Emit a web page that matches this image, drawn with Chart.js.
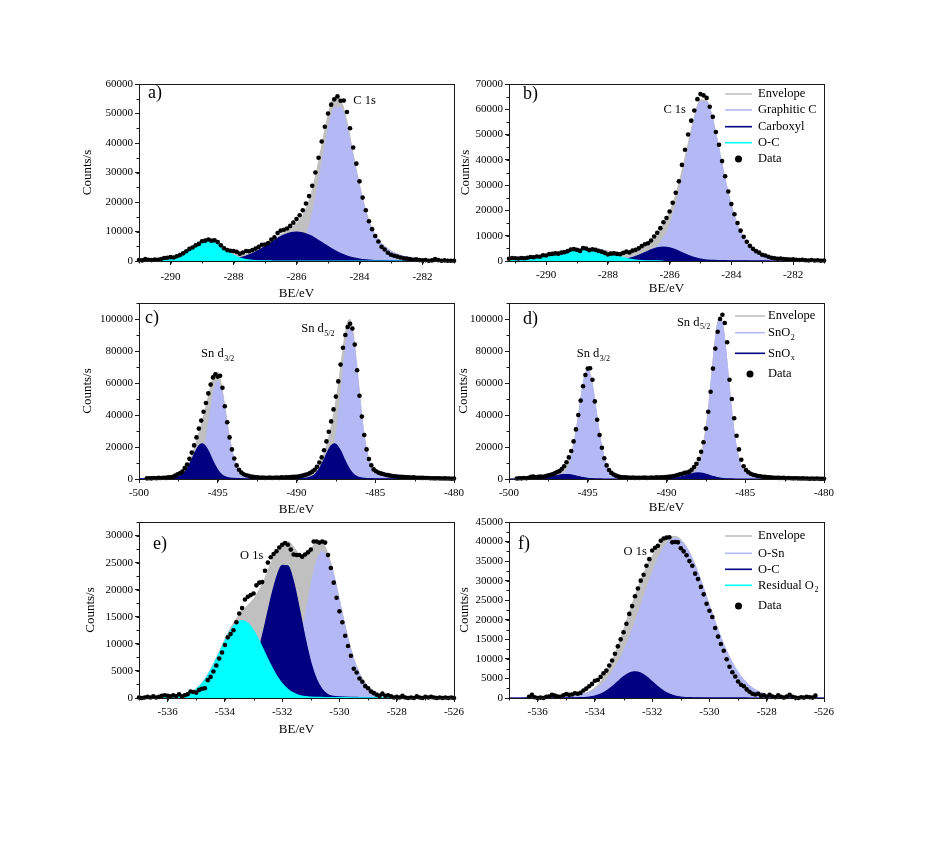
<!DOCTYPE html>
<html>
<head>
<meta charset="utf-8">
<script src="https://cdn.jsdelivr.net/npm/chart.js@4"></script>
<style>
  body { margin: 0; background: #fff; }
  #fig { position: relative; width: 926px; height: 842px; }
  #fig canvas { position: absolute; }
</style>
</head>
<body>
<div id="fig"></div>
<script>
// Helpers
const grid = (start, step, n) =>
  Array.from({ length: n }, (_, i) => Math.round((start + i * step) * 100) / 100);
const pts = (xs, ys) => ys.map((y, i) => ({ x: xs[i], y }));

// Tick labels
const cXTicks = [-290, -288, -286, -284, -282];
const aYTicks = [0, 10000, 20000, 30000, 40000, 50000, 60000];
const bYTicks = [0, 10000, 20000, 30000, 40000, 50000, 60000, 70000];
const snXTicks = [-500, -495, -490, -485, -480];
const snYTicks = [0, 20000, 40000, 60000, 80000, 100000];
const oXTicks = [-536, -534, -532, -530, -528, -526];
const eYTicks = [0, 5000, 10000, 15000, 20000, 25000, 30000];
const fYTicks = [0, 5000, 10000, 15000, 20000, 25000, 30000, 35000, 40000, 45000];

// a) C 1s
const aFitX = grid(-291, 0.2, 51);
const aEnvelope = [245, 400, 555, 760, 1065, 1375, 1985, 2995, 4110, 5330, 6360, 6710, 6380, 5385, 4050, 2820, 2230, 2325, 2970, 3975, 5270, 6700, 8165, 9540, 10890, 12550, 15360, 20420, 28420, 38890, 49250, 55560, 54520, 47160, 36040, 25650, 16900, 10750, 7160, 4900, 3360, 2340, 1625, 1115, 810, 605, 450, 350, 280, 230, 200];
const aGraphitic = [45, 50, 55, 60, 65, 70, 75, 80, 85, 90, 100, 110, 120, 135, 150, 170, 190, 215, 250, 285, 340, 400, 525, 770, 1360, 2750, 5830, 11650, 20780, 32600, 44350, 51950, 52000, 45500, 35000, 25000, 16500, 10500, 7000, 4800, 3300, 2300, 1600, 1100, 800, 600, 450, 350, 280, 230, 200];
const aCarboxyl = [0, 0, 0, 0, 0, 5, 10, 15, 25, 40, 60, 100, 160, 250, 400, 650, 1040, 1660, 2520, 3610, 4900, 6290, 7640, 8770, 9530, 9800, 9530, 8770, 7640, 6290, 4900, 3610, 2520, 1660, 1040, 650, 400, 250, 160, 100, 60, 40, 25, 15, 10, 5, 0, 0, 0, 0, 0];
const aOC = [200, 350, 500, 700, 1000, 1300, 1900, 2900, 4000, 5200, 6200, 6500, 6100, 5000, 3500, 2000, 1000, 450, 200, 80, 30, 10, 0, 0, 0, 0, 0, 0, 0, 0, 0, 0, 0, 0, 0, 0, 0, 0, 0, 0, 0, 0, 0, 0, 0, 0, 0, 0, 0, 0, 0];
const aDataX = grid(-291, 0.1, 101);
const aData = [300, 200, 700, 400, 300, 500, 400, 700, 1000, 1100,
  1300, 1200, 1600, 2000, 2600, 3300, 4100, 4600, 5300, 5800,
  6700, 6900, 7300, 6900, 7000, 6400, 5300, 4300, 3700, 3500,
  3400, 3100, 2500, 2900, 3400, 3300, 3700, 4200, 4800, 5500,
  5600, 6100, 7300, 8000, 9500, 10300, 10600, 11000, 11900, 13000,
  14200, 15500, 17200, 19500, 22000, 25500, 30000, 35000, 40500, 45500,
  50000, 53000, 54800, 55800, 54300, 54400, 50500, 45000, 38500, 33000,
  27000, 21500, 17200, 13500, 10800, 8500, 6600, 4800, 3900, 2800,
  2100, 1800, 1500, 1200, 900, 800, 700, 400, 600, 300,
  200, 300, 100, 200, 700, 300, 100, 200, 100, 100, 100];

// b) C 1s
const bFitX = grid(-291.2, 0.2, 52);
const bEnvelope = [1170, 1280, 1490, 1705, 2020, 2335, 2755, 3175, 3610, 4045, 4485, 4835, 4990, 4960, 4750, 4360, 3910, 3400, 2945, 2915, 3390, 4320, 5850, 8360, 10940, 14350, 19140, 26050, 35300, 46250, 56870, 63685, 63315, 55780, 44210, 32130, 21770, 14020, 8910, 5775, 3980, 2470, 1860, 1500, 1200, 1000, 850, 730, 630, 550, 480, 430];
const bGraphitic = [170, 180, 190, 205, 220, 235, 255, 275, 300, 325, 355, 390, 430, 480, 550, 630, 730, 850, 1000, 1200, 1500, 1850, 2450, 3950, 5730, 8850, 13940, 21670, 32000, 44030, 55530, 62970, 62970, 55530, 44030, 32000, 21670, 13940, 8850, 5730, 3950, 2450, 1850, 1500, 1200, 1000, 850, 730, 630, 550, 480, 430];
const bCarboxyl = [0, 0, 0, 0, 0, 0, 0, 0, 10, 20, 30, 45, 60, 80, 100, 130, 180, 250, 345, 715, 1340, 2220, 3300, 4380, 5200, 5500, 5200, 4380, 3300, 2220, 1340, 715, 345, 250, 180, 130, 100, 80, 60, 45, 30, 20, 10, 0, 0, 0, 0, 0, 0, 0, 0, 0];
const bOC = [1000, 1100, 1300, 1500, 1800, 2100, 2500, 2900, 3300, 3700, 4100, 4400, 4500, 4400, 4100, 3600, 3000, 2300, 1600, 1000, 550, 250, 100, 30, 10, 0];
const bDataX = grid(-291.2, 0.1, 103);
const bData = [900, 1200, 1100, 1000, 1200, 1100, 1300, 1600, 1500, 1800,
  1700, 2300, 2200, 2700, 2800, 3000, 2900, 3300, 3500, 3900,
  4500, 4700, 4400, 4000, 5100, 4900, 4300, 4600, 4400, 4000,
  3700, 3200, 2600, 2900, 3000, 2800, 2700, 3200, 3700, 3400,
  4100, 4400, 5000, 5900, 6600, 7000, 8100, 9700, 11200, 13000,
  15300, 17000, 19600, 23000, 27000, 31500, 38000, 44000, 50000, 55500,
  59500, 64000, 66000, 65500, 64500, 61000, 57000, 51000, 46000, 39500,
  33500, 27500, 22500, 18500, 15000, 12000, 9600, 7600, 6000, 4800,
  3900, 3300, 2500, 2200, 1700, 1300, 1100, 900, 1000, 800,
  700, 600, 700, 500, 400, 500, 300, 200, 400, 200,
  300, 100, 200];

// c) and d) Sn 3d
const snFitX = [-500, -499, -498.4, -497.8, -497.4,
  -497.2, -497.0, -496.8, -496.6, -496.4, -496.2, -496.0, -495.8, -495.6, -495.4, -495.2,
  -495.0, -494.8, -494.6, -494.4, -494.2, -494.0, -493.8, -493.6, -493.4, -493.2,
  -492.8, -492.2, -491.4, -490.6, -490.0, -489.6,
  -489.4, -489.2, -489.0, -488.8, -488.6, -488.4, -488.2, -488.0, -487.8, -487.6, -487.4, -487.2,
  -487.0, -486.8, -486.6, -486.4, -486.2, -486.0, -485.8, -485.6, -485.4, -485.2, -485.0, -484.8, -484.6,
  -484.2, -483.8, -483.2, -482.4, -481.4, -480];
const cEnvelope = [350, 515, 700, 1215, 2620,
  4220, 6880, 10700, 15740, 21670, 28250, 35215, 42840, 51170, 59660, 65930,
  66670, 60115, 48180, 34630, 22590, 13555, 7760, 4445, 2770, 1930,
  1340, 995, 850, 900, 1075, 1375,
  1645, 2190, 3155, 4820, 7615, 11650, 17135, 23945, 32300, 42345, 54690, 69380,
  84705, 96680, 99670, 90860, 73205, 52810, 34405, 20625, 11740, 6630, 4060, 2765, 2120,
  1480, 1130, 815, 570, 405, 290];
const cSnO2 = [275, 390, 520, 715, 930,
  1080, 1330, 1740, 2560, 4220, 7480, 13200, 22070, 33710, 46470, 56960,
  61110, 56965, 46480, 33720, 22080, 13225, 7510, 4250, 2595, 1775,
  1195, 875, 730, 740, 870, 1030,
  1125, 1270, 1445, 1660, 2045, 2670, 3935, 6480, 11525, 20320, 33920, 51920,
  71515, 87710, 94110, 87710, 71505, 51905, 33900, 20300, 11500, 6445, 3895, 2620, 1990,
  1375, 1045, 750, 515, 360, 260];
const cSnOx = [75, 125, 180, 500, 1690,
  3140, 5550, 8960, 13180, 17450, 20770, 22015, 20770, 17460, 13190, 8970,
  5560, 3150, 1700, 910, 510, 330, 250, 195, 175, 155,
  145, 120, 120, 160, 205, 345,
  520, 920, 1710, 3160, 5570, 8980, 13200, 17465, 20775, 22025, 20770, 17460,
  13190, 8970, 5560, 3150, 1700, 905, 505, 325, 240, 185, 165, 145, 130,
  105, 85, 65, 55, 45, 30];
const snDataX = grid(-499.5, 0.15, 131);
const cData = [400, 500, 400, 600, 500, 700, 600, 800, 700, 1000,
  1100, 1400, 2100, 2900, 3600, 4600, 6800, 9000, 12600, 16500,
  21000, 26000, 31500, 36500, 42000, 47500, 53500, 59000, 63500, 65500,
  64000, 64500, 57000, 45500, 35500, 26000, 18500, 12800, 8500, 5800,
  4000, 3000, 2300, 2000, 1500, 1300, 1000, 1100, 800, 900,
  700, 800, 900, 700, 800, 900, 700, 1000, 900, 1100,
  1000, 1200, 1400, 1300, 1600, 1900, 2100, 2600, 3000, 3700,
  4600, 5800, 7600, 10300, 13500, 18000, 23500, 29500, 36000, 43500,
  51500, 61000, 71500, 82000, 90000, 95000, 97000, 94000, 84000, 68000,
  52000, 39000, 27500, 18500, 12500, 8600, 6000, 4800, 4000, 3500,
  3100, 2700, 2400, 2100, 1900, 1700, 1500, 1400, 1300, 1200,
  1100, 1100, 900, 1000, 800, 800, 700, 700, 600, 600,
  500, 500, 400, 500, 400, 300, 400, 300, 300, 200, 300];
const dEnvelope = [305, 445, 640, 1220, 2105,
  2720, 3460, 4340, 5550, 7505, 11040, 17120, 26580, 39100, 52880, 64210,
  68570, 63750, 51945, 37650, 24650, 14755, 8380, 4735, 2895, 1980,
  1325, 970, 805, 815, 1025, 1445,
  1795, 2320, 3010, 3850, 4895, 6135, 7895, 10770, 16050, 25100, 39140, 57850,
  78300, 95200, 101710, 94580, 77010, 55860, 36470, 21835, 12370, 6935, 4195, 2825, 2145,
  1490, 1130, 810, 555, 390, 280];
const dSnO2 = [300, 435, 580, 790, 1035,
  1200, 1480, 1940, 2850, 4705, 8340, 14720, 24600, 37580, 51810, 63510,
  68140, 63510, 51820, 37590, 24620, 14740, 8370, 4730, 2890, 1975,
  1320, 965, 800, 805, 945, 1115,
  1215, 1370, 1560, 1790, 2205, 2875, 4233, 6970, 12390, 21840, 36450, 55790,
  76850, 94250, 101130, 94250, 76840, 55780, 36430, 21820, 12360, 6930, 4190, 2820, 2140,
  1485, 1125, 810, 555, 390, 280];
const dSnOx = [5, 10, 60, 430, 1070,
  1520, 1980, 2400, 2700, 2800, 2700, 2400, 1980, 1520, 1070, 700,
  430, 240, 125, 60, 30, 15, 10, 5, 5, 5,
  5, 5, 5, 10, 80, 330,
  580, 950, 1450, 2060, 2690, 3260, 3660, 3800, 3660, 3260, 2690, 2060,
  1450, 950, 580, 330, 170, 80, 40, 15, 10, 5, 5, 5, 5,
  5, 5, 0, 0, 0, 0];
const dData = [300, 500, 400, 600, 500, 800, 1300, 1500, 1100, 1400,
  1500, 1300, 1700, 2200, 2500, 3000, 3500, 4300, 4900, 6200,
  8000, 10500, 13500, 17500, 23500, 31000, 40000, 49000, 58000, 65000,
  69000, 69200, 62000, 48500, 37000, 27500, 19500, 13000, 8500, 5600,
  3800, 2800, 2100, 1500, 1200, 1100, 1000, 900, 800, 900,
  700, 800, 700, 800, 900, 700, 800, 900, 800, 1000,
  900, 1100, 1000, 1200, 1300, 1500, 1700, 2000, 2500, 2900,
  3300, 3800, 4100, 4600, 5800, 7500, 9500, 12500, 17000, 23000,
  31500, 42000, 54500, 69000, 81500, 92000, 100000, 102700, 97500, 85500,
  62000, 50000, 38000, 27000, 18500, 12000, 8000, 5600, 4200, 3300,
  2700, 2300, 1900, 1700, 1400, 1300, 1100, 1000, 900, 800,
  800, 700, 600, 700, 500, 600, 500, 400, 500, 400,
  300, 400, 300, 300, 200, 300, 200, 300, 200, 200, 200];

// e) and f) O 1s
const oFitX = grid(-537, 0.2, 56);
const eEnvelope = [89, 98, 112, 127, 152, 180, 217, 325, 554, 998, 1718, 2814, 4330, 6277, 8505, 10805, 12930, 14630, 15990, 17060, 18235, 19885, 22135, 24740, 27100, 28620, 28890, 27820, 26500, 26270, 27350, 28730, 28650, 26500, 22870, 18060, 13205, 8970, 5745, 3522, 2100, 1283, 821, 564, 407, 310, 243, 199, 166, 143, 125, 113, 102, 96, 90, 85];
const eOSn = [28, 30, 32, 35, 37, 40, 42, 45, 49, 53, 58, 64, 70, 77, 85, 95, 107, 120, 138, 160, 185, 225, 295, 430, 750, 1450, 2900, 5520, 9580, 14920, 20640, 25210, 27000, 25800, 22500, 17800, 13000, 8800, 5600, 3400, 2000, 1200, 750, 500, 350, 260, 200, 160, 130, 110, 95, 85, 75, 70, 65, 60];
const eOC = [6, 8, 10, 12, 15, 20, 25, 30, 35, 45, 60, 80, 100, 120, 150, 200, 350, 700, 1550, 3090, 5580, 9150, 13570, 18230, 22190, 24500, 24390, 21400, 16450, 11100, 6560, 3400, 1550, 620, 300, 200, 150, 120, 100, 80, 60, 45, 35, 30, 25, 20, 15, 12, 10, 8, 6, 5, 5, 5, 5, 5];
const eResidual = [55, 60, 70, 80, 100, 120, 150, 250, 470, 900, 1600, 2670, 4160, 6080, 8270, 10510, 12470, 13810, 14300, 13810, 12470, 10510, 8270, 6080, 4160, 2670, 1600, 900, 470, 250, 150, 120, 100, 80, 70, 60, 55, 50, 45, 42, 40, 38, 36, 34, 32, 30, 28, 27, 26, 25, 24, 23, 22, 21, 20, 20];
const eDataX = grid(-537, 0.1, 111);
const eData = [100, 0, 100, 200, 100, 300, 100, 200, 400, 500,
  400, 300, 500, 300, 700, 300, 500, 700, 1200, 1100,
  1000, 1500, 1700, 1800, 3300, 3900, 4900, 6000, 7300, 8400,
  9800, 11200, 11800, 12500, 14000, 15600, 16600, 18200, 18700, 19000,
  19300, 20800, 21300, 21400, 23500, 25000, 26000, 26600, 27100, 27800,
  28300, 28600, 28300, 27400, 26500, 26400, 26400, 26100, 26500, 26900,
  27400, 28900, 28900, 28700, 28900, 28700, 26400, 24000, 21300, 18500,
  16000, 14000, 11500, 9600, 7800, 5400, 4700, 3600, 3000, 2200,
  1800, 1200, 900, 600, 400, 800, 400, 500, 300, 100,
  200, 100, 400, 100, 0, 100, 0, 300, 100, 0,
  200, 100, 200, 100, 0, 100, 0, 100, 0, 100, 0];
const fEnvelope = [70, 80, 90, 105, 120, 140, 165, 195, 235, 300, 390, 525, 720, 1020, 1560, 2575, 4110, 6350, 9360, 13080, 17310, 21780, 26040, 29940, 33330, 36160, 38450, 40180, 41180, 41305, 40410, 38510, 35640, 32035, 27930, 23600, 19355, 15434, 11893, 8922, 6490, 4568, 3116, 2075, 1335, 905, 655, 485, 365, 285, 225, 185, 155, 135, 115, 100];
const fOSn = [65, 75, 85, 95, 110, 130, 150, 180, 220, 280, 360, 480, 650, 900, 1330, 2070, 3110, 4560, 6480, 8910, 11880, 15420, 19340, 23580, 27900, 31990, 35570, 38390, 40180, 40800, 40180, 38390, 35570, 31990, 27900, 23580, 19340, 15420, 11880, 8910, 6480, 4560, 3110, 2070, 1330, 900, 650, 480, 360, 280, 220, 180, 150, 130, 110, 95];
const fOC = [5, 5, 6, 8, 10, 12, 13, 14, 15, 20, 30, 45, 70, 120, 230, 505, 1000, 1790, 2880, 4170, 5430, 6360, 6700, 6360, 5430, 4170, 2880, 1790, 1000, 505, 230, 120, 70, 45, 30, 20, 15, 14, 13, 12, 10, 8, 6, 5, 5, 5, 5, 5, 5, 5, 5, 5, 5, 5, 5, 5];
const fDataX = grid(-536.3, 0.1, 101);
const fData = [300, 800, 200, 0, 100, 0, 300, 400, 800, 600,
  400, 300, 700, 1000, 800, 900, 1200, 1100, 1300, 1900,
  2400, 3000, 3600, 4400, 4600, 5400, 6300, 7000, 8300, 9600,
  11300, 13200, 15000, 16800, 19000, 21500, 23500, 26000, 28000, 30000,
  31500, 33800, 35500, 37700, 38400, 38900, 40200, 40800, 41000, 41100,
  39800, 39900, 39800, 38300, 37500, 36500, 35000, 33800, 31800, 30400,
  28400, 26500, 24100, 22300, 20700, 17900, 15700, 13800, 12100, 9900,
  8000, 6600, 5500, 4200, 3400, 3000, 2200, 1600, 1100, 900,
  1100, 600, 700, 300, 800, 400, 200, 700, 300, 100,
  400, 800, 300, 100, 0, 200, 100, 300, 200, 100, 600];

// Estilo
const FONT = "'Liberation Serif', 'Times New Roman', serif";
const INK = "#1a1a1a";
const GREY = "#c0c0c0";
const LILAC = "#b4b8f4";
const NAVY = "#000080";
const CYAN = "#00ffff";

const area = (label, xs, ys, color, order) => ({
  label, data: pts(xs, ys), order,
  borderColor: color, backgroundColor: color, borderWidth: 1.2,
  fill: "origin", pointRadius: 0, cubicInterpolationMode: "monotone",
});
const dots = (xs, ys) => ({
  label: "Data", data: pts(xs, ys), order: 0, showLine: false,
  pointRadius: 2.3, pointBackgroundColor: "#000", pointBorderWidth: 0, clip: false,
});

// texto com subscrito: "SnO_2"
const drawText = (ctx, text, x, y, size) => {
  const [main, sub] = text.split("_");
  ctx.textAlign = "left";
  ctx.textBaseline = "middle";
  ctx.font = `${size}px ${FONT}`;
  ctx.fillText(main, x, y);
  if (sub) {
    const w = ctx.measureText(main).width;
    ctx.font = `${Math.round(size * 0.65)}px ${FONT}`;
    ctx.fillText(sub, x + w + 0.5, y + size * 0.38);
  }
};

// moldura + ticks menores
const framePlugin = (p) => ({
  id: "frame",
  afterDraw(chart) {
    const { ctx, chartArea: a, scales: { x, y } } = chart;
    ctx.save();
    ctx.strokeStyle = INK;
    ctx.lineWidth = 1;
    ctx.strokeRect(Math.round(a.left) + 0.5, Math.round(a.top) + 0.5,
      Math.round(a.right - a.left), Math.round(a.bottom - a.top));
    ctx.beginPath();
    for (let i = Math.ceil(p.xMin / p.xMinor); i * p.xMinor <= p.xMax + 1e-9; i++) {
      const px = Math.round(x.getPixelForValue(i * p.xMinor)) + 0.5;
      ctx.moveTo(px, a.bottom);
      ctx.lineTo(px, a.bottom + 2.5);
    }
    for (let i = 0; i * p.yMinor <= p.yMax + 1e-9; i++) {
      const py = Math.round(y.getPixelForValue(i * p.yMinor)) + 0.5;
      ctx.moveTo(a.left, py);
      ctx.lineTo(a.left - 2.5, py);
    }
    ctx.stroke();
    ctx.restore();
  },
});

const textPlugin = (p) => ({
  id: "panelText",
  afterDraw(chart) {
    const { ctx, chartArea: a, scales: { x, y } } = chart;
    ctx.save();
    ctx.fillStyle = "#000";
    drawText(ctx, p.letter, a.left + p.letterAt[0], a.top + p.letterAt[1], 18);
    p.notes.forEach((n) => {
      ctx.fillStyle = "#000";
      drawText(ctx, n.text, x.getPixelForValue(n.x), y.getPixelForValue(n.y), 12.5);
    });
    if (p.legend) {
      const L = p.legend;
      L.rows.forEach((r, i) => {
        const yy = a.top + L.dy[i];
        if (r.dot) {
          ctx.fillStyle = "#000";
          ctx.beginPath();
          ctx.arc(a.right + (L.x0 + L.x1) / 2, yy, 3.5, 0, Math.PI * 2);
          ctx.fill();
        } else {
          ctx.strokeStyle = r.color;
          ctx.lineWidth = 1.6;
          ctx.beginPath();
          ctx.moveTo(a.right + L.x0, yy);
          ctx.lineTo(a.right + L.x1, yy);
          ctx.stroke();
        }
        ctx.fillStyle = "#000";
        drawText(ctx, r.text, a.right + L.tx, yy, 12.5);
      });
    }
    ctx.restore();
  },
});

const legendC = [
  { text: "Envelope", color: GREY }, { text: "Graphitic C", color: LILAC },
  { text: "Carboxyl", color: NAVY }, { text: "O-C", color: CYAN }, { text: "Data", dot: true }];
const legendSn = [
  { text: "Envelope", color: GREY }, { text: "SnO_2", color: LILAC },
  { text: "SnO_x", color: NAVY }, { text: "Data", dot: true }];
const legendO = [
  { text: "Envelope", color: GREY }, { text: "O-Sn", color: LILAC },
  { text: "O-C", color: NAVY }, { text: "Residual O_2", color: CYAN }, { text: "Data", dot: true }];

const panels = [
  {
    area: [139, 84, 454, 261], yw: 63, yTitlePad: 3.5, xTitle: true, xTitlePad: 1.9, xTickPad: 6,
    xMin: -291, xMax: -281, xTicks: cXTicks, xMinor: 1, yMax: 60000, yTicks: aYTicks, yMinor: 5000,
    letter: "a)", letterAt: [9, 9],
    notes: [{ text: "C 1s", x: -284.2, y: 54200 }],
    series: [dots(aDataX, aData), area("O-C", aFitX, aOC, CYAN, 1), area("Carboxyl", aFitX, aCarboxyl, NAVY, 2),
      area("Graphitic C", aFitX, aGraphitic, LILAC, 3), area("Envelope", aFitX, aEnvelope, GREY, 4)],
  },
  {
    area: [509, 84, 824, 261], yw: 53, yTitlePad: 1.9, xTitle: true, xTitlePad: 6.2, xTickPad: 3.7,
    xMin: -291.2, xMax: -281, xTicks: cXTicks, xMinor: 1, yMax: 70000, yTicks: bYTicks, yMinor: 5000,
    letter: "b)", letterAt: [14, 10.5],
    notes: [{ text: "C 1s", x: -286.2, y: 59700 }],
    legend: { x0: -99, x1: -72, tx: -66, dy: [10, 26, 42.7, 58.7, 75], rows: legendC },
    series: [dots(bDataX, bData), area("O-C", bFitX, bOC, CYAN, 1), area("Carboxyl", bFitX, bCarboxyl, NAVY, 2),
      area("Graphitic C", bFitX, bGraphitic, LILAC, 3), area("Envelope", bFitX, bEnvelope, GREY, 4)],
  },
  {
    area: [139, 303, 454, 479], yw: 63, yTitlePad: 3.5, xTitle: true, xTitlePad: 3.2, xTickPad: 3.4,
    xMin: -500, xMax: -480, xTicks: snXTicks, xMinor: 2.5, yMax: 110000, yTicks: snYTicks, yMinor: 10000,
    letter: "c)", letterAt: [6, 15.5],
    notes: [{ text: "Sn d_3/2", x: -496.06, y: 78200 }, { text: "Sn d_5/2", x: -489.7, y: 93800 }],
    series: [dots(snDataX, cData), area("SnOx", snFitX, cSnOx, NAVY, 2),
      area("SnO2", snFitX, cSnO2, LILAC, 3), area("Envelope", snFitX, cEnvelope, GREY, 4)],
  },
  {
    area: [509, 303, 824, 479], yw: 53, yTitlePad: 0.2, xTitle: true, xTitlePad: 5.2, xTickPad: 3.4,
    xMin: -500, xMax: -480, xTicks: snXTicks, xMinor: 2.5, yMax: 110000, yTicks: snYTicks, yMinor: 10000,
    letter: "d)", letterAt: [14, 16],
    notes: [{ text: "Sn d_3/2", x: -495.7, y: 78200 }, { text: "Sn d_5/2", x: -489.34, y: 97800 }],
    legend: { x0: -89, x1: -59, tx: -56, dy: [13, 29.7, 50.3, 71], rows: legendSn },
    series: [dots(snDataX, dData), area("SnOx", snFitX, dSnOx, NAVY, 2),
      area("SnO2", snFitX, dSnO2, LILAC, 3), area("Envelope", snFitX, dEnvelope, GREY, 4)],
  },
  {
    area: [139, 522, 454, 698], yw: 63, yTitlePad: 6.9, xTitle: true, xTitlePad: 2.2, xTickPad: 3.7,
    xMin: -537, xMax: -526, xTicks: oXTicks, xMinor: 1, yMax: 32500, yTicks: eYTicks, yMinor: 2500,
    letter: "e)", letterAt: [14, 22],
    notes: [{ text: "O 1s", x: -533.47, y: 26200 }],
    series: [dots(eDataX, eData), area("Residual O2", oFitX, eResidual, CYAN, 1), area("O-C", oFitX, eOC, NAVY, 2),
      area("O-Sn", oFitX, eOSn, LILAC, 3), area("Envelope", oFitX, eEnvelope, GREY, 4)],
  },
  {
    area: [509, 522, 824, 698], yw: 53, yTitlePad: 1.2, xTitle: false, xTitlePad: 0, xTickPad: 3.7,
    xMin: -537, xMax: -526, xTicks: oXTicks, xMinor: 1, yMax: 45000, yTicks: fYTicks, yMinor: 2500,
    letter: "f)", letterAt: [9, 22.5],
    notes: [{ text: "O 1s", x: -533.0, y: 37500 }],
    legend: { x0: -99, x1: -72, tx: -66, dy: [14, 31.3, 47.3, 63.3, 84], rows: legendO },
    series: [dots(fDataX, fData), area("O-C", oFitX, fOC, NAVY, 2),
      area("O-Sn", oFitX, fOSn, LILAC, 3), area("Envelope", oFitX, fEnvelope, GREY, 4)],
  },
];

const fig = document.querySelector("#fig");
const XH = 42;
const PAD_TOP = 10;
const PAD_RIGHT = 14;

const makePanel = (p) => {
  const left = p.area[0] - p.yw;
  const top = p.area[1] - PAD_TOP;
  const w = p.area[2] + PAD_RIGHT - left;
  const h = p.area[3] + XH - top;
  const canvas = document.createElement("canvas");
  canvas.width = w;
  canvas.height = h;
  canvas.style.left = left + "px";
  canvas.style.top = top + "px";
  canvas.style.width = w + "px";
  canvas.style.height = h + "px";
  fig.appendChild(canvas);

  const tickFont = { family: FONT, size: 11 };
  const titleFont = { family: FONT, size: 13 };

  new Chart(canvas.getContext("2d"), {
    type: "line",
    data: { datasets: p.series },
    options: {
      responsive: false,
      animation: false,
      events: [],
      layout: { padding: { top: PAD_TOP, right: PAD_RIGHT, left: 0, bottom: 0 } },
      plugins: { legend: { display: false }, tooltip: { enabled: false } },
      scales: {
        x: {
          type: "linear", min: p.xMin, max: p.xMax,
          afterBuildTicks: (s) => { s.ticks = p.xTicks.map((value) => ({ value })); },
          ticks: {
            autoSkip: false, maxRotation: 0,
            color: "#000", font: tickFont, padding: p.xTickPad, callback: (v) => String(v),
          },
          grid: { drawOnChartArea: false, tickLength: 4, tickColor: INK },
          border: { color: INK },
          title: { display: p.xTitle, text: "BE/eV", color: "#000", font: titleFont, padding: { top: 0, bottom: p.xTitlePad } },
          afterFit: (s) => { s.height = XH; },
        },
        y: {
          min: 0, max: p.yMax,
          afterBuildTicks: (s) => { s.ticks = p.yTicks.map((value) => ({ value })); },
          ticks: {
            autoSkip: false,
            color: "#000", font: tickFont, padding: 2, callback: (v) => String(v),
          },
          grid: { drawOnChartArea: false, tickLength: 4, tickColor: INK },
          border: { color: INK },
          title: { display: true, text: "Counts/s", color: "#000", font: titleFont, padding: { top: p.yTitlePad, bottom: 0 } },
          afterFit: (s) => { s.width = p.yw; },
        },
      },
    },
    plugins: [framePlugin(p), textPlugin(p)],
  });
};

panels.forEach(makePanel);
</script>
</body>
</html>
